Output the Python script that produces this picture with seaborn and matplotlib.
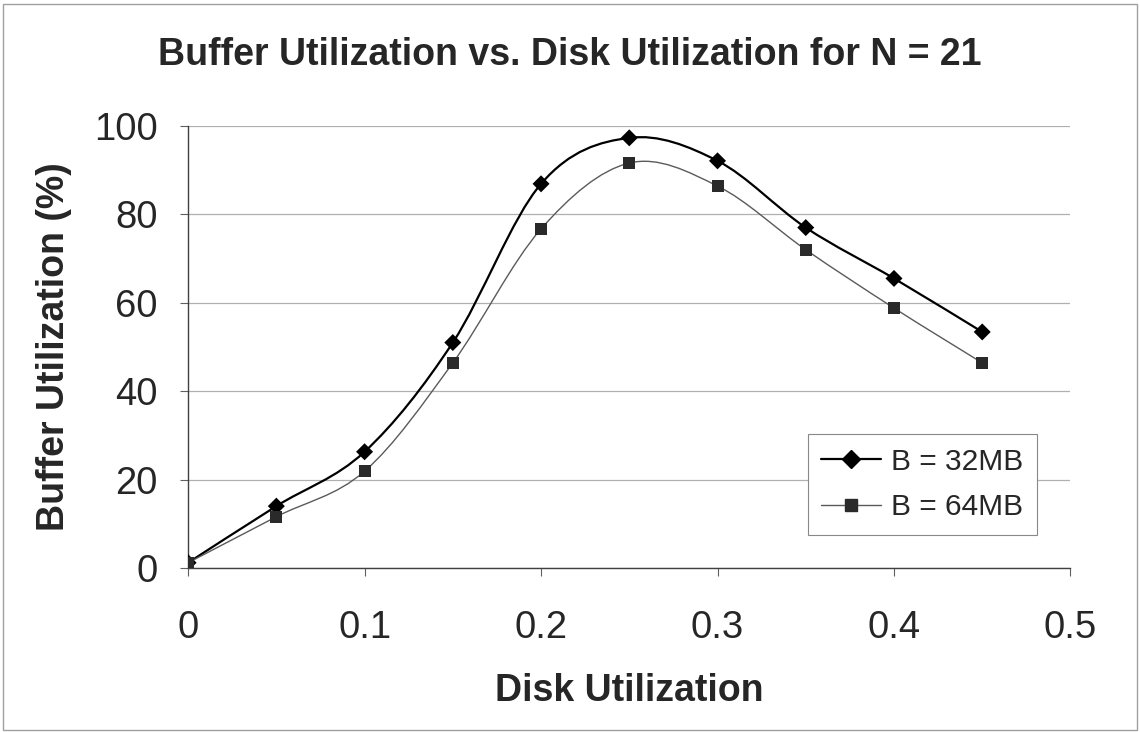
import numpy as np
import pandas as pd
import matplotlib
matplotlib.use("Agg")
import matplotlib.pyplot as plt
import seaborn as sns
from matplotlib.path import Path
from matplotlib.patches import PathPatch, Rectangle
from matplotlib.lines import Line2D

disk_util = [0.0, 0.05, 0.10, 0.15, 0.20, 0.25, 0.30, 0.35, 0.40, 0.45]
buf_32mb = [1.2, 14.0, 26.3, 51.0, 86.9, 97.3, 92.1, 77.0, 65.5, 53.4]
buf_64mb = [1.2, 11.6, 21.9, 46.4, 76.7, 91.6, 86.4, 72.0, 58.8, 46.4]
series_names = ["B = 32MB", "B = 64MB"]

df = pd.DataFrame({"x": disk_util * 2,
                   "y": buf_32mb + buf_64mb,
                   "series": [series_names[0]] * len(disk_util) + [series_names[1]] * len(disk_util)})

sns.set_style("white")
plt.rcParams["font.family"] = ["Liberation Sans", "DejaVu Sans"]

fig = plt.figure(figsize=(11.4, 7.32), dpi=100)
ax = fig.add_axes([0.165, 0.224, 0.774, 0.604])


def smooth_path(xs, ys):
    # excel style smoothed line: cubic bezier through every point
    pts = np.column_stack([xs, ys])
    n = len(pts)
    verts = [pts[0]]
    codes = [Path.MOVETO]
    for i in range(n - 1):
        p0 = pts[i - 1] if i > 0 else pts[i]
        p1, p2 = pts[i], pts[i + 1]
        p3 = pts[i + 2] if i + 2 < n else pts[i + 1]
        c1 = p1 + (p2 - p0) / 6.0
        c2 = p2 - (p3 - p1) / 6.0
        verts += [c1, c2, p2]
        codes += [Path.CURVE4] * 3
    return Path(verts, codes)


ax.add_patch(PathPatch(smooth_path(disk_util, buf_32mb), fill=False,
                       edgecolor="black", lw=1.6, zorder=3))
ax.add_patch(PathPatch(smooth_path(disk_util, buf_64mb), fill=False,
                       edgecolor="#5a5a5a", lw=1.0, zorder=3))

sns.scatterplot(data=df, x="x", y="y", hue="series", style="series",
                markers={series_names[0]: "D", series_names[1]: "s"},
                palette={series_names[0]: "black", series_names[1]: "#2a2a2a"},
                s=75, linewidth=0, legend=False, ax=ax, zorder=4)

ax.set_xlim(0, 0.5)
ax.set_ylim(0, 100)
ax.set_xticks([0, 0.1, 0.2, 0.3, 0.4, 0.5])
ax.set_xticklabels(["0", "0.1", "0.2", "0.3", "0.4", "0.5"])
ax.set_yticks([0, 20, 40, 60, 80, 100])
ax.yaxis.grid(True, color="#b0b0b0", lw=0.9)
ax.set_axisbelow(True)
for side in ["top", "right"]:
    ax.spines[side].set_visible(False)
for side in ["left", "bottom"]:
    ax.spines[side].set_color("#404040")
    ax.spines[side].set_linewidth(1.0)
ax.tick_params(axis="both", direction="out", length=6, width=0.8, color="#606060",
               labelsize=27.5, bottom=True, left=True)
ax.tick_params(axis="x", pad=24)
ax.tick_params(axis="y", pad=16)

ax.set_xlabel("Disk Utilization", fontsize=27, fontweight="bold", labelpad=20)
ax.set_ylabel("Buffer Utilization (%)", fontsize=27, fontweight="bold", labelpad=16)
fig.text(0.5, 0.925, "Buffer Utilization vs. Disk Utilization for N = 21",
         ha="center", va="center", fontsize=27, fontweight="bold")

handles = [Line2D([], [], color="black", lw=1.6, marker="D", markersize=9),
           Line2D([], [], color="#5a5a5a", lw=1.0, marker="s", markersize=8,
                  markerfacecolor="#2a2a2a", markeredgecolor="#2a2a2a")]
leg = ax.legend(handles, series_names, loc="lower right", bbox_to_anchor=(0.962, 0.075),
                borderaxespad=0, fontsize=21.5, frameon=True, fancybox=False, framealpha=1,
                edgecolor="#888888", handlelength=2.0, labelspacing=0.6,
                borderpad=0.45, handletextpad=0.35)
leg.get_frame().set_linewidth(0.8)

fig.patches.append(Rectangle((0.003, 0.003), 0.994, 0.992, transform=fig.transFigure,
                             fill=False, edgecolor="#a0a0a0", lw=1.0))

fig.savefig("out.png", dpi=100)
